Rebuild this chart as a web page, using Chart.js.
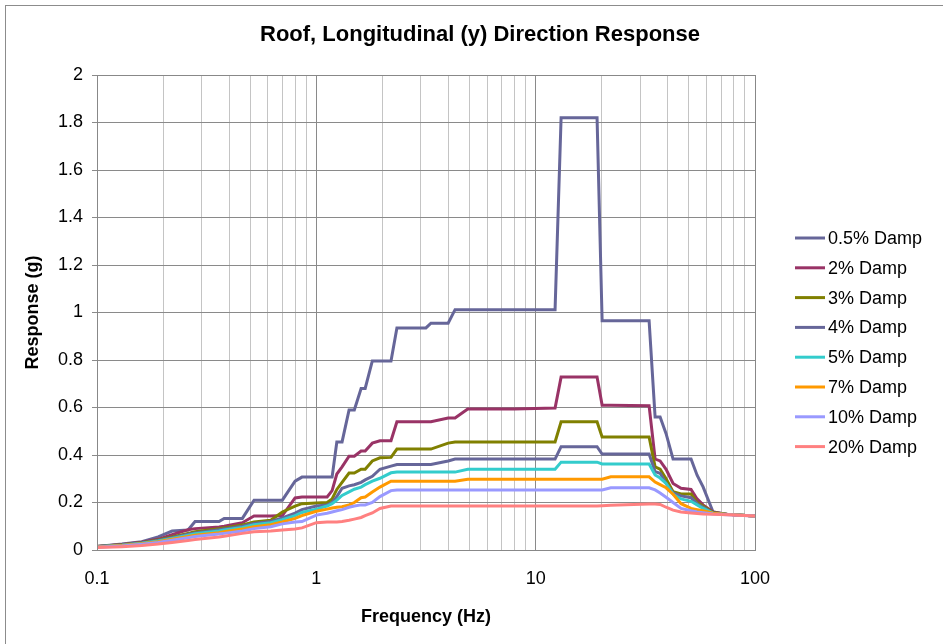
<!DOCTYPE html>
<html>
<head>
<meta charset="utf-8">
<title>Roof, Longitudinal (y) Direction Response</title>
<script src="https://cdn.jsdelivr.net/npm/chart.js@4.4.1/dist/chart.umd.min.js"></script>
<style>
  html, body { margin: 0; padding: 0; background: #ffffff; }
  canvas { display: block; }
</style>
</head>
<body>
<canvas id="chart" width="943" height="644"></canvas>
<script>
// Frequency points (Hz) shared by every curve
const freq = [
  0.1, 0.13, 0.16, 0.19, 0.22, 0.26, 0.28, 0.36, 0.38, 0.46,
  0.52, 0.62, 0.7, 0.8, 0.86, 1.0, 1.12, 1.18, 1.24, 1.31,
  1.41, 1.49, 1.6, 1.67, 1.8, 1.95, 2.19, 2.33, 3.16, 3.33,
  3.99, 4.29, 4.9, 8.0, 12.26, 13.06, 16, 19.05, 20.09, 22,
  32.9, 35.04, 36.93, 39.32, 42.31, 46, 51.1, 54.45, 57.98, 64.4,
  75, 100
];

// Response (g) per damping ratio
const damp05 = [
  0.015, 0.025, 0.035, 0.055, 0.08, 0.084, 0.12, 0.12, 0.133, 0.133,
  0.21, 0.21, 0.21, 0.29, 0.307, 0.307, 0.307, 0.307, 0.455, 0.455,
  0.59, 0.59, 0.68, 0.68, 0.796, 0.796, 0.796, 0.935, 0.935, 0.955,
  0.955, 1.012, 1.012, 1.012, 1.012, 1.82, 1.82, 1.82, 0.965, 0.965,
  0.965, 0.56, 0.56, 0.49, 0.383, 0.383, 0.383, 0.315, 0.266, 0.16,
  0.15, 0.143
];
const damp2 = [
  0.015, 0.023, 0.033, 0.045, 0.065, 0.085, 0.09, 0.097, 0.1, 0.115,
  0.143, 0.143, 0.145, 0.219, 0.223, 0.223, 0.223, 0.25, 0.32, 0.35,
  0.395, 0.395, 0.417, 0.417, 0.45, 0.46, 0.46, 0.54, 0.54, 0.54,
  0.556, 0.556, 0.594, 0.594, 0.598, 0.728, 0.728, 0.728, 0.61, 0.61,
  0.607, 0.383, 0.375, 0.34, 0.28, 0.26, 0.255, 0.215, 0.19, 0.16,
  0.15, 0.143
];
const damp3 = [
  0.015, 0.022, 0.031, 0.042, 0.055, 0.07, 0.077, 0.09, 0.093, 0.105,
  0.118, 0.125, 0.16, 0.185, 0.195, 0.198, 0.2, 0.215, 0.255, 0.285,
  0.324, 0.324, 0.34, 0.34, 0.375, 0.388, 0.39, 0.425, 0.425, 0.425,
  0.45, 0.455, 0.455, 0.455, 0.455, 0.54, 0.54, 0.54, 0.476, 0.476,
  0.476, 0.35, 0.34, 0.3, 0.245, 0.236, 0.236, 0.2, 0.185, 0.158,
  0.15, 0.143
];
const damp4 = [
  0.015, 0.021, 0.03, 0.04, 0.052, 0.066, 0.072, 0.085, 0.088, 0.1,
  0.112, 0.12, 0.135, 0.155, 0.17, 0.185, 0.19, 0.2, 0.225, 0.26,
  0.27, 0.275, 0.285, 0.295, 0.31, 0.34, 0.353, 0.36, 0.36, 0.36,
  0.375, 0.383, 0.383, 0.383, 0.383, 0.435, 0.435, 0.435, 0.404, 0.404,
  0.404, 0.33, 0.323, 0.28, 0.24, 0.228, 0.22, 0.195, 0.18, 0.156,
  0.15, 0.143
];
const damp5 = [
  0.014, 0.02, 0.028, 0.038, 0.049, 0.062, 0.068, 0.08, 0.084, 0.095,
  0.106, 0.115, 0.128, 0.145, 0.158, 0.172, 0.185, 0.195, 0.21, 0.23,
  0.245, 0.256, 0.265, 0.275, 0.29, 0.302, 0.325, 0.328, 0.328, 0.328,
  0.328, 0.328, 0.34, 0.34, 0.34, 0.37, 0.37, 0.37, 0.362, 0.362,
  0.362, 0.316, 0.303, 0.28, 0.235, 0.215, 0.205, 0.19, 0.175, 0.155,
  0.15, 0.143
];
const damp7 = [
  0.013, 0.019, 0.026, 0.035, 0.045, 0.057, 0.062, 0.073, 0.077, 0.088,
  0.098, 0.106, 0.118, 0.133, 0.145, 0.163, 0.172, 0.177, 0.18, 0.182,
  0.19, 0.2, 0.22, 0.223, 0.244, 0.265, 0.29, 0.29, 0.29, 0.29,
  0.29, 0.29, 0.298, 0.298, 0.298, 0.298, 0.298, 0.298, 0.298, 0.308,
  0.308, 0.286, 0.275, 0.262, 0.235, 0.195, 0.175, 0.17, 0.165, 0.155,
  0.15, 0.143
];
const damp10 = [
  0.012, 0.017, 0.024, 0.032, 0.041, 0.052, 0.057, 0.067, 0.07, 0.08,
  0.09, 0.098, 0.11, 0.118, 0.12, 0.147, 0.155, 0.16, 0.165, 0.17,
  0.18, 0.185, 0.19, 0.19, 0.2, 0.225, 0.25, 0.253, 0.253, 0.253,
  0.253, 0.253, 0.253, 0.253, 0.253, 0.253, 0.253, 0.253, 0.253, 0.262,
  0.262, 0.253, 0.24, 0.222, 0.2, 0.175, 0.165, 0.16, 0.157, 0.152,
  0.148, 0.143
];
const damp20 = [
  0.01, 0.014, 0.019, 0.025, 0.032, 0.04, 0.044, 0.055, 0.058, 0.07,
  0.077, 0.08, 0.084, 0.088, 0.093, 0.115, 0.118, 0.118, 0.118, 0.12,
  0.125, 0.13, 0.137, 0.145, 0.156, 0.175, 0.185, 0.185, 0.185, 0.185,
  0.185, 0.185, 0.185, 0.185, 0.185, 0.185, 0.185, 0.185, 0.186, 0.188,
  0.194, 0.194, 0.192, 0.18, 0.168, 0.16, 0.156, 0.154, 0.152, 0.15,
  0.148, 0.143
];

const seriesNames = ["0.5% Damp", "2% Damp", "3% Damp", "4% Damp", "5% Damp", "7% Damp", "10% Damp", "20% Damp"];
const seriesValues = [damp05, damp2, damp3, damp4, damp5, damp7, damp10, damp20];
const seriesColors = ["#666699", "#993366", "#808000", "#666699", "#33cccc", "#ff9900", "#9999ff", "#ff8080"];

const chartTitle = "Roof, Longitudinal (y) Direction Response";
const FONT = "'Liberation Sans', Arial, sans-serif";

// log ticks at 1..9 x 10^n
const logTicks = [];
for (let e = -1; e <= 1; e++) {
  for (let m = 1; m <= 9; m++) {
    logTicks.push(Number((m * Math.pow(10, e)).toPrecision(6)));
  }
}
logTicks.push(100);
const isDecade = (v) => Math.abs(Math.log10(v) - Math.round(Math.log10(v))) < 1e-9;

// Frame, title and legend (legend sits right of the plot, title centred on the whole frame)
const framePlugin = {
  id: "frame",
  beforeDraw(chart) {
    const ctx = chart.ctx;
    ctx.save();
    ctx.fillStyle = "#ffffff";
    ctx.fillRect(0, 0, chart.width, chart.height);
    ctx.strokeStyle = "#8c8c8c";
    ctx.lineWidth = 1;
    ctx.strokeRect(5.5, 5.5, chart.width + 20, chart.height + 20);
    ctx.restore();
  },
  afterDraw(chart) {
    const ctx = chart.ctx;
    const a = chart.chartArea;
    ctx.save();
    ctx.strokeStyle = "#888888";
    ctx.lineWidth = 1;
    ctx.strokeRect(Math.round(a.left) + 0.5, Math.round(a.top) + 0.5, Math.round(a.right - a.left), Math.round(a.bottom - a.top));

    ctx.fillStyle = "#000000";
    ctx.font = "bold 22px " + FONT;
    ctx.textAlign = "center";
    ctx.textBaseline = "middle";
    ctx.fillText(chartTitle, 480, 35);

    ctx.font = "18px " + FONT;
    ctx.textAlign = "left";
    chart.data.datasets.forEach((ds, i) => {
      const y = 238 + i * 29.8;
      ctx.strokeStyle = ds.borderColor;
      ctx.lineWidth = 3;
      ctx.beginPath();
      ctx.moveTo(795, y);
      ctx.lineTo(825, y);
      ctx.stroke();
      ctx.fillStyle = "#000000";
      ctx.fillText(ds.label, 828, y + 1);
    });
    ctx.restore();
  }
};

new Chart(document.getElementById("chart"), {
  type: "line",
  data: {
    datasets: seriesNames.map((name, i) => ({
      label: name,
      data: freq.map((f, j) => ({ x: f, y: seriesValues[i][j] })),
      borderColor: seriesColors[i],
      borderWidth: 3,
      pointRadius: 0,
      tension: 0,
      fill: false,
      order: seriesNames.length - 1 - i
    }))
  },
  options: {
    responsive: false,
    animation: false,
    devicePixelRatio: 1,
    layout: { padding: { left: 5, right: 188, top: 75, bottom: 10 } },
    plugins: {
      legend: { display: false },
      tooltip: { enabled: false },
      title: { display: false }
    },
    scales: {
      x: {
        type: "logarithmic",
        min: 0.1,
        max: 100,
        afterFit: (s) => { s.height = 84; },
        afterBuildTicks: (s) => { s.ticks = logTicks.map((v) => ({ value: v })); },
        grid: {
          color: (c) => (c.tick && isDecade(c.tick.value) ? "#8a8a8a" : "#c4c4c4"),
          lineWidth: 1,
          drawTicks: false
        },
        border: { display: false },
        ticks: {
          autoSkip: false,
          maxRotation: 0,
          padding: 18,
          color: "#000000",
          font: { family: FONT, size: 18 },
          callback: (v) => (isDecade(v) ? String(v) : "")
        },
        title: {
          display: true,
          text: "Frequency (Hz)",
          color: "#000000",
          font: { family: FONT, size: 18, weight: "bold" },
          padding: { top: 0, bottom: 6 }
        }
      },
      y: {
        min: 0,
        max: 2,
        afterFit: (s) => { s.width = 92; },
        grid: {
          color: "#8a8a8a",
          lineWidth: 1,
          drawTicks: true,
          tickLength: 5
        },
        border: { display: false },
        ticks: {
          stepSize: 0.2,
          padding: 9,
          color: "#000000",
          font: { family: FONT, size: 18 },
          callback: (v) => String(Number(v.toFixed(1)))
        },
        title: {
          display: true,
          text: "Response (g)",
          color: "#000000",
          font: { family: FONT, size: 18, weight: "bold" },
          padding: { top: 17, bottom: 0 }
        }
      }
    }
  },
  plugins: [framePlugin]
});
</script>
</body>
</html>
